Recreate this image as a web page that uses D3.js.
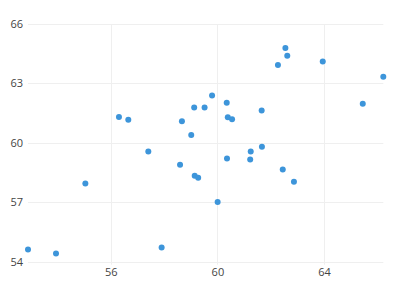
<!DOCTYPE html>
<html>
<head>
<meta charset="utf-8">
<script src="https://cdn.jsdelivr.net/npm/d3@7"></script>
<style>
  html, body { margin: 0; padding: 0; background: #fff; }
  svg { display: block; }
  text { font-family: "Open Sans", sans-serif; }
</style>
</head>
<body>
<svg id="chart" width="395" height="293"></svg>
<script>
const xValues = [52.90, 53.95, 55.05, 56.31, 56.66, 57.41, 57.91, 58.60, 58.67, 59.02, 59.13, 59.15, 59.28, 59.52, 59.80, 60.01, 60.35, 60.36, 60.39, 60.55, 61.25, 61.23, 61.66, 61.67, 62.27, 62.45, 62.55, 62.62, 62.87, 63.95, 65.45, 66.22];
const yValues = [54.62, 54.42, 57.95, 61.31, 61.16, 59.56, 54.72, 58.89, 61.09, 60.40, 61.78, 58.34, 58.24, 61.78, 62.39, 57.02, 62.03, 59.21, 61.29, 61.19, 59.56, 59.16, 61.63, 59.80, 63.93, 58.65, 64.79, 64.40, 58.03, 64.11, 61.98, 63.34];
const xTicks = [56, 60, 64];
const yTicks = [54, 57, 60, 63, 66];

const svg = d3.select("#chart");
const mLeft = 28, mRight = 383.3, mTop = 24, mBottom = 261.7;

const x = d3.scaleLinear().domain(d3.extent(xValues)).range([mLeft, mRight]);
const y = d3.scaleLinear().domain([54, 66]).range([mBottom, mTop]);

const grid = svg.append("g");
grid.selectAll("line.h").data(yTicks).enter().append("line")
  .attr("x1", mLeft).attr("x2", mRight)
  .attr("y1", d => Math.round(y(d)) + 0.5).attr("y2", d => Math.round(y(d)) + 0.5)
  .attr("stroke", "#efefef").attr("stroke-width", 1);
grid.selectAll("line.v").data(xTicks).enter().append("line")
  .attr("x1", d => Math.round(x(d)) + 0.5).attr("x2", d => Math.round(x(d)) + 0.5)
  .attr("y1", mTop).attr("y2", mBottom + 3)
  .attr("stroke", "#efefef").attr("stroke-width", 1);

const yAxis = d3.axisLeft(y).tickValues(yTicks).tickSize(0).tickPadding(5).tickFormat(d3.format("d"));
const gy = svg.append("g").attr("transform", `translate(${mLeft},0)`).call(yAxis);
gy.select(".domain").remove();
gy.selectAll("text").attr("font-size", 11).attr("fill", "#444").style("font-family", "'Open Sans', sans-serif");

const xAxis = d3.axisBottom(x).tickValues(xTicks).tickSize(0).tickPadding(7).tickFormat(d3.format("d"));
const gx = svg.append("g").attr("transform", `translate(0,${mBottom})`).call(xAxis);
gx.select(".domain").remove();
gx.selectAll("text").attr("font-size", 11).attr("fill", "#444").style("font-family", "'Open Sans', sans-serif");

svg.append("g").selectAll("circle").data(xValues.map((v, i) => [v, yValues[i]])).enter()
  .append("circle")
  .attr("cx", d => x(d[0])).attr("cy", d => y(d[1]))
  .attr("r", 3).attr("fill", "#3d95da");
</script>
</body>
</html>
